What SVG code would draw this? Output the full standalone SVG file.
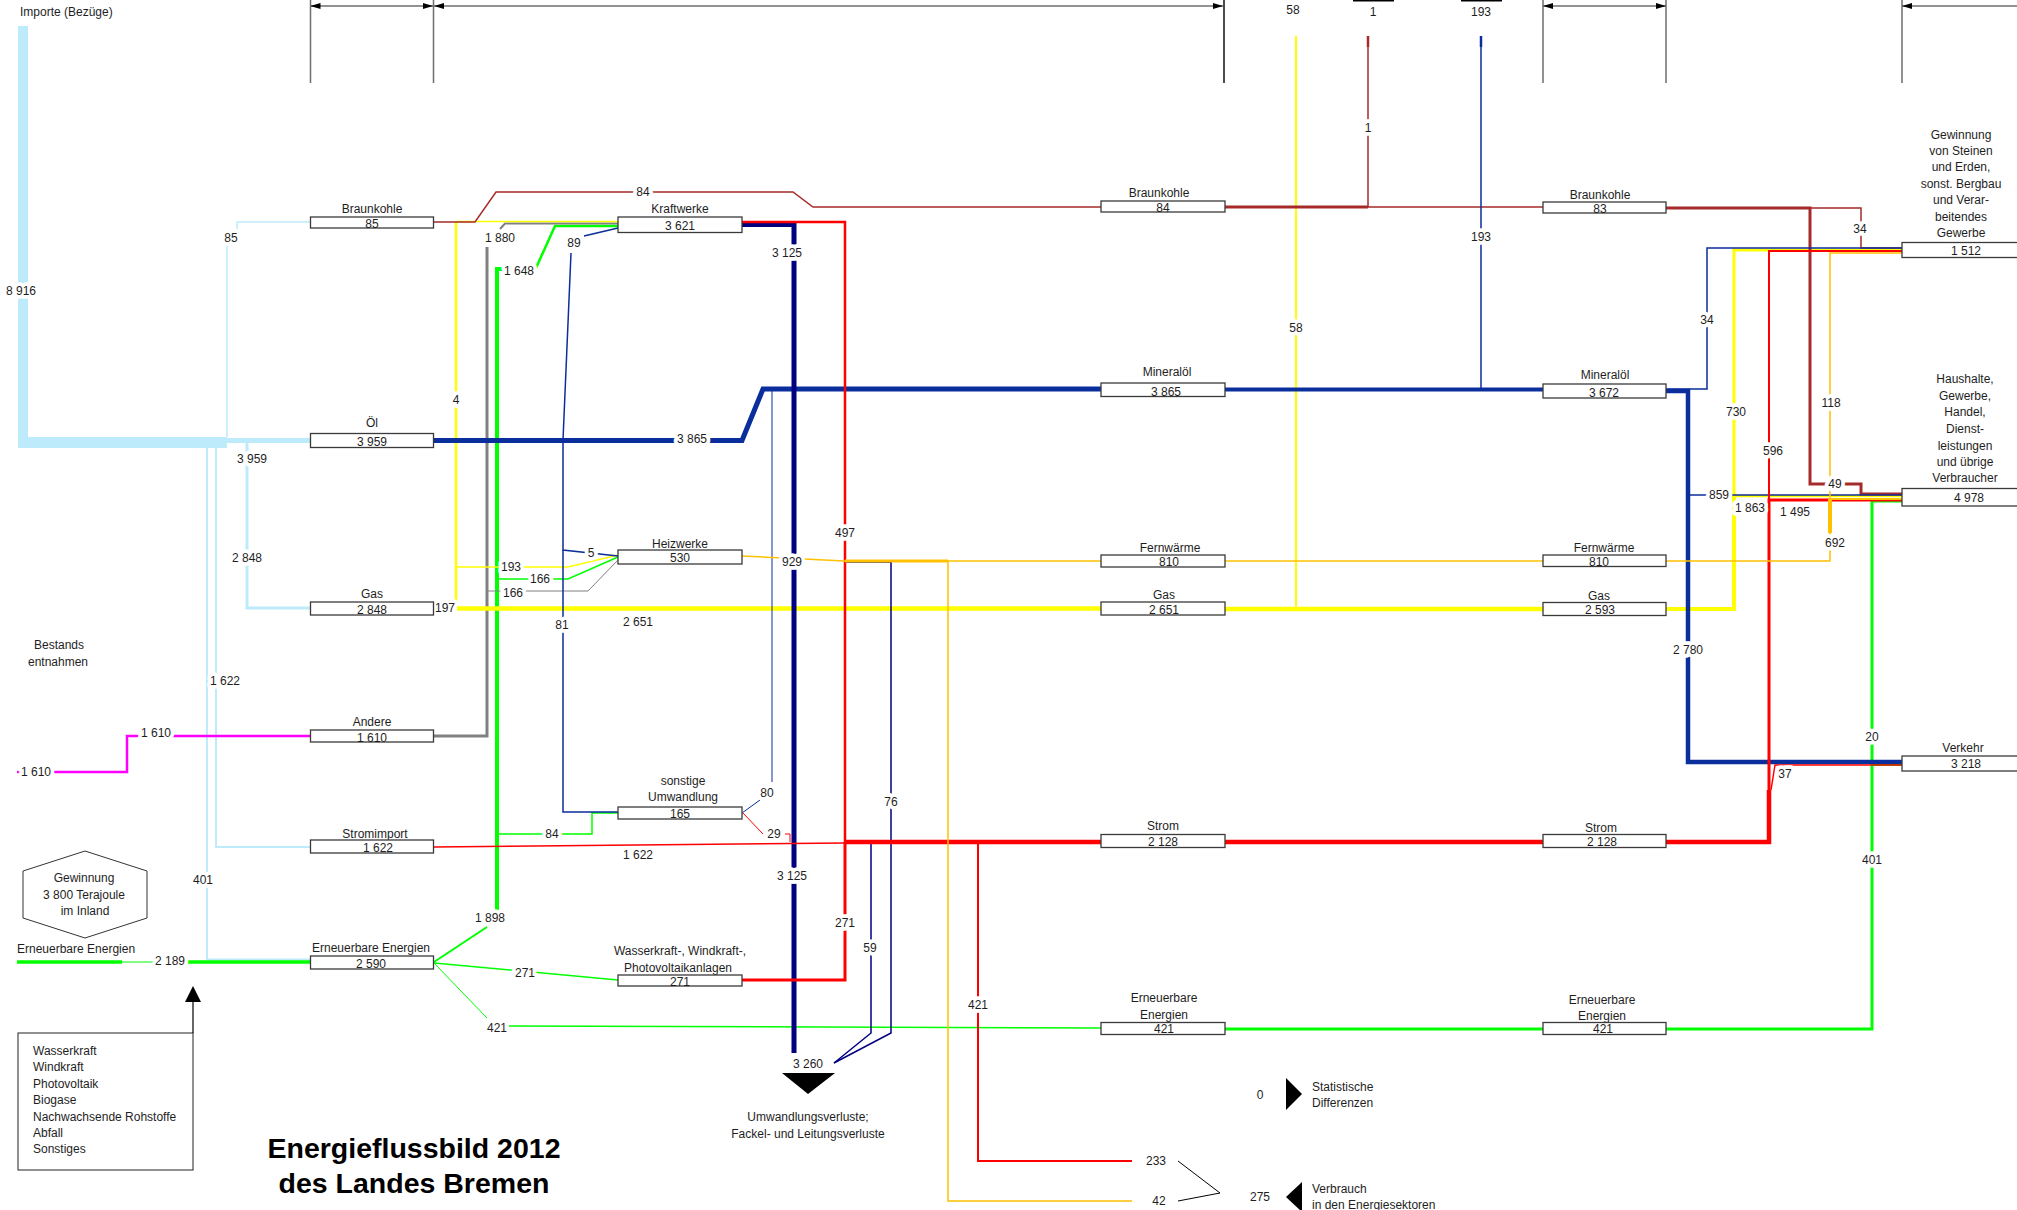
<svg xmlns="http://www.w3.org/2000/svg" width="2017" height="1210" viewBox="0 0 2017 1210">
<defs>
<style>
text{font-family:"Liberation Sans",Arial,Helvetica,sans-serif;font-size:12px;fill:#1e1e1e}
.m{text-anchor:middle}
.h{paint-order:stroke;stroke:#fff;stroke-width:7.5px;stroke-linejoin:round}
.bx{fill:#fff;stroke:#3a3a3a;stroke-width:1.3}
.ln{fill:none;stroke-linejoin:miter}
.lb{stroke:#bdebfb}.db{stroke:#0a2e9c}.nv{stroke:#000080}.rd{stroke:#ff0000}.br{stroke:#a52a2a}.ye{stroke:#ffff00}.or{stroke:#ffc000}.gr{stroke:#00ff00}.mg{stroke:#ff00ff}.gy{stroke:#808080}
.dim{stroke:#6e6e6e;stroke-width:1.5;fill:none}
.title{font-size:28.5px;font-weight:bold;fill:#000}
</style>
<marker id="ar" viewBox="0 0 10 6" refX="10" refY="3" markerWidth="10" markerHeight="6" markerUnits="userSpaceOnUse" orient="auto-start-reverse"><path d="M0,0L10,3L0,6z" fill="#000"/></marker>
</defs>
<rect width="2017" height="1210" fill="#fff"/>

<g id="dimensions">
<path class="dim" d="M310.5,0V83M433.5,0V83M1543,0V83M1666,0V83M1902,0V83"/>
<path stroke="#111" stroke-width="1.5" d="M1224,0V83"/>
<path class="dim" d="M310.5,6H433" marker-start="url(#ar)" marker-end="url(#ar)"/>
<path class="dim" d="M434,6H1223" marker-start="url(#ar)" marker-end="url(#ar)"/>
<path class="dim" d="M1543,6H1666" marker-start="url(#ar)" marker-end="url(#ar)"/>
<path class="dim" d="M1902,6H2017" marker-start="url(#ar)"/>
<path stroke="#000" stroke-width="2" d="M1353,0.5H1394M1461,0.5H1502"/>
</g>

<g id="connectors">
<!-- light blue imports -->
<rect x="18" y="26" width="10" height="422" fill="#bdebfb"/>
<rect x="18" y="437" width="209" height="11" fill="#bdebfb"/>
<rect x="227" y="438" width="83" height="5" fill="#bdebfb"/>
<path class="ln lb" stroke-width="1.5" d="M227,437V236"/>
<path class="ln lb" stroke-width="1.5" d="M237,229V222H310"/>
<path class="ln lb" stroke-width="3" d="M247,443V608H310"/>
<path class="ln lb" stroke-width="2" d="M216,448V847H310"/>
<path class="ln lb" stroke-width="2" d="M207,448V959.5H310"/>
<!-- magenta -->
<path class="ln mg" stroke-width="2.5" d="M17,772H21M53,772H127V736H310"/>
<!-- green -->
<path class="ln gr" stroke-width="3.5" d="M17,962H122M187,962H310"/>
<path class="ln gr" stroke-width="1.2" d="M122,962H187"/>
<path class="ln gr" stroke-width="2" d="M434,962L487,927"/>
<path class="ln gr" stroke-width="4" d="M497,912V269H505"/>
<path class="ln gr" stroke-width="2.5" d="M536,268L555,226H618"/>
<path class="ln gr" stroke-width="1.5" d="M497,579H568L618,557"/>
<path class="ln gr" stroke-width="1.5" d="M497,834H592V813H618"/>
<path class="ln gr" stroke-width="1.5" d="M434,963L618,980"/>
<path class="ln gr" stroke-width="1" d="M434,963L487,1018"/>
<path class="ln gr" stroke-width="1.5" d="M509,1026L1101,1028"/>
<path class="ln gr" stroke-width="3" d="M1225,1029H1543"/>
<path class="ln gr" stroke-width="3" d="M1666,1029H1872V501H1902"/>
<path class="ln gr" stroke-width="2" d="M1872,765H1902"/>
<!-- gray -->
<path class="ln gy" stroke-width="3" d="M434,736H487V247"/>
<path class="ln gy" stroke-width="2" d="M500,229L505,223.5H618"/>
<path class="ln gy" stroke-width="1" d="M487,591H588L618,560"/>
<!-- yellow -->
<path class="ln ye" stroke-width="2.5" d="M456,606V222"/>
<path class="ln ye" stroke-width="1.5" d="M456,221.5H618"/>
<path class="ln ye" stroke-width="1.5" d="M456,567H568L618,555"/>
<path class="ln ye" stroke-width="4.5" d="M457,608.5H1101"/>
<path class="ln ye" stroke-width="4.5" d="M1225,609H1543"/>
<path class="ln ye" stroke-width="2" d="M1296,36V608"/>
<path class="ln ye" stroke-width="4" d="M1666,609H1734V496"/>
<path class="ln ye" stroke-width="3" d="M1734,497V250H1902"/>
<path class="ln ye" stroke-width="2.5" d="M1734,496H1902"/>
<!-- brown -->
<path class="ln br" stroke-width="1.5" d="M434,222H475L496,192H793L813,207H1101"/>
<path class="ln br" stroke-width="3" d="M1225,207H1368"/>
<path class="ln br" stroke-width="1.5" d="M1368,207H1543M1368,36V207"/>
<path class="ln br" stroke-width="2.5" d="M1368,36V47"/>
<path class="ln br" stroke-width="3" d="M1666,208H1810V484H1861V494H1902"/>
<path class="ln br" stroke-width="1.5" d="M1810,208H1861V248H1902"/>
<!-- dark blue oil -->
<path class="ln db" stroke-width="5" d="M434,440.5H742L763,389H1101"/>
<path class="ln db" stroke-width="4" d="M1225,389.5H1543"/>
<path class="ln db" stroke-width="1.5" d="M1481,36V388"/>
<path class="ln db" stroke-width="2.5" d="M1481,36V47"/>
<path class="ln db" stroke-width="4.5" d="M1666,391H1688V762H1902"/>
<path class="ln db" stroke-width="1.5" d="M1666,389H1707V248H1902"/>
<path class="ln db" stroke-width="1.5" d="M1688,495H1902"/>
<path class="ln db" stroke-width="1.5" d="M584,236L618,228"/>
<path class="ln db" stroke-width="1.5" d="M571,253L563,440V550L618,556"/>
<path class="ln db" stroke-width="1.5" d="M563,550V812H618"/>
<path class="ln db" stroke-width="1" d="M772,389V782M760,800L742,813"/>
<!-- navy losses -->
<path class="ln nv" stroke-width="5" d="M742,224.5H794V1053"/>
<path class="ln nv" stroke-width="1.5" d="M845,562H891V1033L834,1063"/>
<path class="ln nv" stroke-width="1.5" d="M845,843H871V1033L834,1063"/>
<!-- red electricity -->
<path class="ln rd" stroke-width="2.5" d="M742,222H845V842"/>
<path class="ln rd" stroke-width="3" d="M742,980H845V842"/>
<path class="ln rd" stroke-width="1.5" d="M434,847L845,843"/>
<path class="ln rd" stroke-width="1" d="M742,812L763,834M785,834H790V842"/>
<path class="ln rd" stroke-width="4.5" d="M845,842H1101"/>
<path class="ln rd" stroke-width="4.5" d="M1225,842H1543"/>
<path class="ln rd" stroke-width="4.5" d="M1666,842H1769V790"/>
<path class="ln rd" stroke-width="3" d="M1769,791V500H1902"/>
<path class="ln rd" stroke-width="2" d="M1769,500V251H1902"/>
<path class="ln rd" stroke-width="1.5" d="M1771,790L1775,765H1902"/>
<path class="ln rd" stroke-width="2" d="M978,842V1161H1132"/>
<!-- orange district heat -->
<path class="ln or" stroke-width="1.5" d="M742,556L845,561"/>
<path class="ln or" stroke-width="3" d="M845,561H948"/>
<path class="ln or" stroke-width="1.5" d="M948,561H1101"/>
<path class="ln or" stroke-width="1.5" d="M948,561V1201H1132"/>
<path class="ln or" stroke-width="1.5" d="M1225,561H1543"/>
<path class="ln or" stroke-width="1.5" d="M1666,561H1830V533"/>
<path class="ln or" stroke-width="4" d="M1830,533V499"/>
<path class="ln or" stroke-width="2" d="M1830,499H1902"/>
<path class="ln or" stroke-width="1.5" d="M1830,499V253H1902"/>
<!-- bracket -->
<path fill="none" stroke="#000" stroke-width="1" d="M1178,1161L1220,1193L1178,1201"/>
<!-- flow labels -->
<text class="m h" x="21" y="295">8 916</text>
<text class="m h" x="231" y="242">85</text>
<text class="m h" x="252" y="463">3 959</text>
<text class="m h" x="247" y="562">2 848</text>
<text class="m h" x="225" y="685">1 622</text>
<text class="m h" x="203" y="884">401</text>
<text class="m h" x="36" y="776">1 610</text>
<text class="m h" x="156" y="737">1 610</text>
<text class="m h" x="170" y="965">2 189</text>
<text class="m h" x="490" y="922">1 898</text>
<text class="m h" x="519" y="275">1 648</text>
<text class="m h" x="540" y="583">166</text>
<text class="m h" x="552" y="838">84</text>
<text class="m h" x="525" y="977">271</text>
<text class="m h" x="497" y="1032">421</text>
<text class="m h" x="1872" y="741">20</text>
<text class="m h" x="1872" y="864">401</text>
<text class="m h" x="500" y="242">1 880</text>
<text class="m h" x="513" y="597">166</text>
<text class="m h" x="456" y="404">4</text>
<text class="m h" x="511" y="571">193</text>
<text class="m h" x="445" y="612">197</text>
<text class="m h" x="638" y="626">2 651</text>
<text class="m h" x="1296" y="332">58</text>
<text class="m h" x="1736" y="416">730</text>
<text class="m h" x="1750" y="512">1 863</text>
<text class="m h" x="643" y="196">84</text>
<text class="m h" x="1368" y="132">1</text>
<text class="m h" x="1835" y="488">49</text>
<text class="m h" x="1860" y="233">34</text>
<text class="m h" x="692" y="443">3 865</text>
<text class="m h" x="1481" y="241">193</text>
<text class="m h" x="1688" y="654">2 780</text>
<text class="m h" x="1707" y="324">34</text>
<text class="m h" x="1719" y="499">859</text>
<text class="m h" x="574" y="247">89</text>
<text class="m h" x="591" y="557">5</text>
<text class="m h" x="562" y="629">81</text>
<text class="m h" x="767" y="797">80</text>
<text class="m h" x="787" y="257">3 125</text>
<text class="m h" x="792" y="880">3 125</text>
<text class="m h" x="891" y="806">76</text>
<text class="m h" x="870" y="952">59</text>
<text class="m h" x="845" y="537">497</text>
<text class="m h" x="845" y="927">271</text>
<text class="m h" x="638" y="859">1 622</text>
<text class="m h" x="774" y="838">29</text>
<text class="m h" x="1773" y="455">596</text>
<text class="m h" x="1795" y="516">1 495</text>
<text class="m h" x="1785" y="778">37</text>
<text class="m h" x="978" y="1009">421</text>
<text class="m h" x="792" y="566">929</text>
<text class="m h" x="1835" y="547">692</text>
<text class="m h" x="1831" y="407">118</text>
<text class="m" x="1156" y="1165">233</text>
<text class="m" x="1159" y="1205">42</text>
<text class="m" x="1260" y="1201">275</text>
<text class="m" x="1260" y="1099">0</text>
<text class="m" x="808" y="1068">3 260</text>
<text class="m" x="1293" y="14">58</text>
<text class="m" x="1373" y="16">1</text>
<text class="m" x="1481" y="16">193</text>
</g>

<g id="n-importe"><text x="20" y="16">Importe (Bezüge)</text></g>
<g id="n-bestand"><text class="m" x="59" y="649">Bestands</text><text class="m" x="58" y="666">entnahmen</text></g>
<g id="n-ee-in"><text x="17" y="953">Erneuerbare Energien</text></g>
<g id="n-gewinnung">
<polygon points="85,851 147,871 147,918 85,938 23,918 23,871" fill="#fff" stroke="#333" stroke-width="1"/>
<text class="m" x="84" y="882">Gewinnung</text><text class="m" x="84" y="899">3 800 Terajoule</text><text class="m" x="85" y="915">im Inland</text>
</g>
<g id="n-legend">
<rect x="18" y="1033" width="175" height="137" fill="#fff" stroke="#222" stroke-width="1"/>
<path d="M193,1033V1000" stroke="#000" stroke-width="1.2"/>
<polygon points="185,1002 201,1002 193,986" fill="#000"/>
<text x="33" y="1055">Wasserkraft</text><text x="33" y="1071">Windkraft</text><text x="33" y="1088">Photovoltaik</text><text x="33" y="1104">Biogase</text><text x="33" y="1121">Nachwachsende Rohstoffe</text><text x="33" y="1137">Abfall</text><text x="33" y="1153">Sonstiges</text>
</g>
<g id="title"><text class="m title" x="414" y="1158">Energieflussbild 2012</text><text class="m title" x="414" y="1193">des Landes Bremen</text></g>

<!-- column A -->
<g id="a-braunkohle"><text class="m" x="372" y="213">Braunkohle</text><rect class="bx" x="310.5" y="217" width="123" height="11"/><text class="m" x="372" y="228">85</text></g>
<g id="a-oel"><text class="m" x="372" y="427">Öl</text><rect class="bx" x="310.5" y="433.5" width="123" height="14"/><text class="m" x="372" y="446">3 959</text></g>
<g id="a-gas"><text class="m" x="372" y="598">Gas</text><rect class="bx" x="310.5" y="602" width="123" height="13"/><text class="m" x="372" y="614">2 848</text></g>
<g id="a-andere"><text class="m" x="372" y="726">Andere</text><rect class="bx" x="310.5" y="730" width="123" height="12"/><text class="m" x="372" y="742">1 610</text></g>
<g id="a-strom"><text class="m" x="375" y="838">Stromimport</text><rect class="bx" x="310.5" y="840" width="123" height="13"/><text class="m" x="378" y="852">1 622</text></g>
<g id="a-ee"><text class="m" x="371" y="952">Erneuerbare Energien</text><rect class="bx" x="310.5" y="956" width="123" height="13"/><text class="m" x="371" y="968">2 590</text></g>

<!-- column B -->
<g id="b-kraftwerke"><text class="m" x="680" y="213">Kraftwerke</text><rect class="bx" x="618" y="217" width="124" height="15.5"/><text class="m" x="680" y="230">3 621</text></g>
<g id="b-heizwerke"><text class="m" x="680" y="548">Heizwerke</text><rect class="bx" x="618" y="550" width="124" height="14"/><text class="m" x="680" y="562">530</text></g>
<g id="b-sonstige"><text class="m" x="683" y="785">sonstige</text><text class="m" x="683" y="801">Umwandlung</text><rect class="bx" x="618" y="807" width="124" height="12"/><text class="m" x="680" y="818">165</text></g>
<g id="b-wasser"><text class="m" x="680" y="955">Wasserkraft-, Windkraft-,</text><text class="m" x="678" y="972">Photovoltaikanlagen</text><rect class="bx" x="618" y="975" width="124" height="11"/><text class="m" x="680" y="986">271</text></g>
<g id="b-verluste"><polygon points="782,1073 835,1073 808,1094" fill="#000"/><text class="m" x="808" y="1121">Umwandlungsverluste;</text><text class="m" x="808" y="1138">Fackel- und Leitungsverluste</text></g>

<!-- column C -->
<g id="c-braunkohle"><text class="m" x="1159" y="197">Braunkohle</text><rect class="bx" x="1101" y="201" width="124" height="11"/><text class="m" x="1163" y="212">84</text></g>
<g id="c-mineraloel"><text class="m" x="1167" y="376">Mineralöl</text><rect class="bx" x="1101" y="383" width="124" height="13.5"/><text class="m" x="1166" y="396">3 865</text></g>
<g id="c-fernwaerme"><text class="m" x="1170" y="552">Fernwärme</text><rect class="bx" x="1101" y="555" width="124" height="12"/><text class="m" x="1169" y="566">810</text></g>
<g id="c-gas"><text class="m" x="1164" y="599">Gas</text><rect class="bx" x="1101" y="602" width="124" height="13"/><text class="m" x="1164" y="614">2 651</text></g>
<g id="c-strom"><text class="m" x="1163" y="830">Strom</text><rect class="bx" x="1101" y="834.5" width="124" height="13"/><text class="m" x="1163" y="846">2 128</text></g>
<g id="c-ee"><text class="m" x="1164" y="1002">Erneuerbare</text><text class="m" x="1164" y="1019">Energien</text><rect class="bx" x="1101" y="1022.5" width="124" height="12"/><text class="m" x="1164" y="1033">421</text></g>
<g id="c-statdiff"><polygon points="1286,1078 1302,1094 1286,1110" fill="#000"/><text x="1312" y="1091">Statistische</text><text x="1312" y="1107">Differenzen</text></g>
<g id="c-verbrauch"><polygon points="1302,1182 1286,1197 1302,1212" fill="#000"/><text x="1312" y="1193">Verbrauch</text><text x="1312" y="1209">in den Energiesektoren</text></g>

<!-- column D -->
<g id="d-braunkohle"><text class="m" x="1600" y="199">Braunkohle</text><rect class="bx" x="1543" y="202" width="123" height="11"/><text class="m" x="1600" y="213">83</text></g>
<g id="d-mineraloel"><text class="m" x="1605" y="379">Mineralöl</text><rect class="bx" x="1543" y="384" width="123" height="14"/><text class="m" x="1604" y="397">3 672</text></g>
<g id="d-fernwaerme"><text class="m" x="1604" y="552">Fernwärme</text><rect class="bx" x="1543" y="555" width="123" height="11.5"/><text class="m" x="1599" y="566">810</text></g>
<g id="d-gas"><text class="m" x="1599" y="600">Gas</text><rect class="bx" x="1543" y="602.5" width="123" height="13"/><text class="m" x="1600" y="614">2 593</text></g>
<g id="d-strom"><text class="m" x="1601" y="832">Strom</text><rect class="bx" x="1543" y="834.5" width="123" height="13"/><text class="m" x="1602" y="846">2 128</text></g>
<g id="d-ee"><text class="m" x="1602" y="1004">Erneuerbare</text><text class="m" x="1602" y="1020">Energien</text><rect class="bx" x="1543" y="1022.5" width="123" height="12"/><text class="m" x="1603" y="1033">421</text></g>

<!-- column E -->
<g id="e-industrie"><text class="m" x="1961" y="139">Gewinnung</text><text class="m" x="1961" y="155">von Steinen</text><text class="m" x="1961" y="171">und Erden,</text><text class="m" x="1961" y="188">sonst. Bergbau</text><text class="m" x="1961" y="204">und Verar-</text><text class="m" x="1961" y="221">beitendes</text><text class="m" x="1961" y="237">Gewerbe</text><rect class="bx" x="1902" y="242.5" width="130" height="15"/><text class="m" x="1966" y="255">1 512</text></g>
<g id="e-haushalte"><text class="m" x="1965" y="383">Haushalte,</text><text class="m" x="1965" y="400">Gewerbe,</text><text class="m" x="1965" y="416">Handel,</text><text class="m" x="1965" y="433">Dienst-</text><text class="m" x="1965" y="450">leistungen</text><text class="m" x="1965" y="466">und übrige</text><text class="m" x="1965" y="482">Verbraucher</text><rect class="bx" x="1902" y="488.5" width="130" height="17.5"/><text class="m" x="1969" y="502">4 978</text></g>
<g id="e-verkehr"><text class="m" x="1963" y="752">Verkehr</text><rect class="bx" x="1902" y="756" width="130" height="15"/><text class="m" x="1966" y="768">3 218</text></g>
</svg>
